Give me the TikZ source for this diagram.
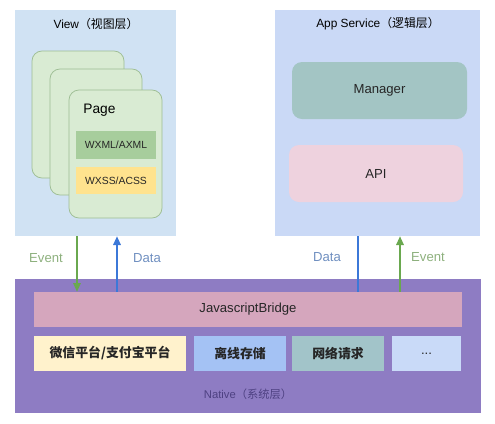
\documentclass[tikz,border=0pt]{standalone}
\usepackage{fontspec}
\setmainfont{Liberation Sans}
\newfontfamily\cjk{Noto Sans CJK SC}
\usetikzlibrary{fit,arrows.meta}

\begin{document}
\begin{tikzpicture}[x=0.8pt, y=0.8pt,
  blocco/.style={inner sep=0pt},
  pagina/.style={blocco, fill=colPage, draw=colPageBd, line width=0.6pt, rounded corners=8pt},
  testo/.style={text=black!85, font=\fontsize{10.5}{12}\selectfont},
  testoCn/.style={text=black!85, font=\cjk\bfseries\fontsize{10.3}{12}\selectfont},
  testoXml/.style={text=black!85, font=\fontsize{8.3}{10}\selectfont},
  freccia/.style={line width=1.3pt, -{Triangle[length=7pt,width=6pt]}},
  etichetta/.style={font=\fontsize{10.5}{12}\selectfont}]

% Colori
\definecolor{colView}{HTML}{D0E2F3}
\definecolor{colApp}{HTML}{CAD9F6}
\definecolor{colPage}{HTML}{D9EBD3}
\definecolor{colPageBd}{HTML}{9DBD93}
\definecolor{colWxml}{HTML}{A7CD9C}
\definecolor{colWxss}{HTML}{FFE38E}
\definecolor{colMan}{HTML}{A3C5C4}
\definecolor{colApi}{HTML}{EED2DE}
\definecolor{colNat}{HTML}{8E7CC3}
\definecolor{colBridge}{HTML}{D5A6BD}
\definecolor{colPiatt}{HTML}{FFF2CC}
\definecolor{colOff}{HTML}{A4C2F4}
\definecolor{colRete}{HTML}{A2C4C9}
\definecolor{colAltro}{HTML}{C9DAF8}
\definecolor{colEvTxt}{HTML}{8DB07D}
\definecolor{colDaTxt}{HTML}{6F8FC0}
\definecolor{colEv}{HTML}{6AA84F}
\definecolor{colDa}{HTML}{3C78D8}
\definecolor{colNatTxt}{HTML}{4E4182}

% Coordinate in pixel, y verso il basso negativa
\useasboundingbox (0,0) rectangle (495,-423);

% Livello vista
\node[blocco, fill=colView, fit={(15,-10) (176,-236)}] (view) {};
\node[etichetta, font=\fontsize{9.5}{11}\selectfont] (viewT) at (96,-24) {View{\cjk（视图层）}};

% Pagine sovrapposte
\node[pagina, fit={(32,-51) (124,-178)}] (pag1) {};
\node[pagina, fit={(50,-69) (142,-195)}] (pag2) {};
\node[pagina, fit={(69,-90) (162,-218)}] (pag3) {};
\node[anchor=west, etichetta, font=\fontsize{11}{13}\selectfont] (pagT) at (79,-110) {Page};
\node[blocco, fill=colWxml, fit={(76,-131) (156,-159)}] (wxml) {};
\node[testoXml] (wxmlT) at (wxml.center) {WXML/AXML};
\node[blocco, fill=colWxss, fit={(76,-167) (156,-194)}] (wxss) {};
\node[testoXml] (wxssT) at (wxss.center) {WXSS/ACSS};

% Livello logico
\node[blocco, fill=colApp, fit={(275,-10) (480,-236)}] (app) {};
\node[etichetta, font=\fontsize{9.5}{11}\selectfont] (appT) at (378,-24) {App Service{\cjk（逻辑层）}};
\node[blocco, fill=colMan, rounded corners=8pt, fit={(292,-62) (467,-119)}] (man) {};
\node[testo] (manT) at (man.center) {Manager};
\node[blocco, fill=colApi, rounded corners=8pt, fit={(289,-145) (463,-202)}] (api) {};
\node[testo] (apiT) at (api.center) {API};

% Livello nativo
\node[blocco, fill=colNat, fit={(15,-279) (481,-413)}] (native) {};
\node[blocco, fill=colBridge, fit={(34,-292) (462,-327)}] (bridge) {};
\node[testo] (bridgeT) at (bridge.center) {JavascriptBridge};
\node[blocco, fill=colPiatt, fit={(34,-336) (186,-371)}] (piatt) {};
\node[testoCn] (piattT) at (piatt.center) {微信平台/支付宝平台};
\node[blocco, fill=colOff, fit={(194,-336) (286,-371)}] (offline) {};
\node[testoCn] (offlineT) at (offline.center) {离线存储};
\node[blocco, fill=colRete, fit={(292,-336) (384,-371)}] (rete) {};
\node[testoCn] (reteT) at (rete.center) {网络请求};
\node[blocco, fill=colAltro, fit={(392,-336) (461,-371)}] (altro) {};
\node[testo] (altroT) at (altro.center) {...};
\node[text=colNatTxt, font=\fontsize{9}{11}\selectfont] (natT) at (248,-394) {Native{\cjk（系统层）}};

% Frecce Event / Data
\coordinate (xEvL) at (77,0);
\coordinate (xDaL) at (117,0);
\coordinate (xDaR) at (358,0);
\coordinate (xEvR) at (400,0);

\draw[freccia, colEv] (view.south -| xEvL) -- (bridge.north -| xEvL);
\draw[freccia, colDa] (bridge.north -| xDaL) -- (view.south -| xDaL);
\draw[line width=1.3pt, colDa] (app.south -| xDaR) -- (bridge.north -| xDaR);
\draw[freccia, colEv] (bridge.north -| xEvR) -- (app.south -| xEvR);

\node[etichetta, text=colEvTxt] (evL) at (46,-258) {Event};
\node[etichetta, text=colDaTxt] (daL) at (147,-258) {Data};
\node[etichetta, text=colDaTxt] (daR) at (327,-257) {Data};
\node[etichetta, text=colEvTxt] (evR) at (428,-257) {Event};

\end{tikzpicture}
\end{document}
